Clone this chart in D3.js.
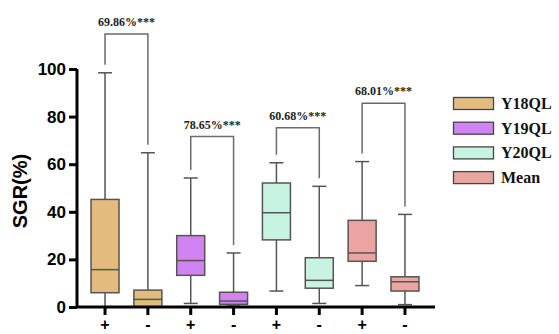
<!DOCTYPE html>
<html>
<head>
<meta charset="utf-8">
<script src="https://cdn.jsdelivr.net/npm/d3@7"></script>
<style>
body{margin:0;background:#fff;}
svg{display:block;}
</style>
</head>
<body>
<svg id="chart" width="559" height="334"></svg>
<script>
// ---- data ----
const categories = ["+", "-", "+", "-", "+", "-", "+", "-"];
const groups = ["Y18QL", "Y18QL", "Y19QL", "Y19QL", "Y20QL", "Y20QL", "Mean", "Mean"];
const mins    = [0.0, 0.0, 1.5, 0.4, 6.7, 1.5, 9.0, 1.0];
const q1s     = [6.0, 0.0, 13.3, 1.1, 28.2, 7.9, 19.2, 6.7];
const medians = [15.7, 3.2, 19.5, 2.5, 39.6, 11.2, 22.7, 10.6];
const q3s     = [45.2, 7.1, 30.0, 6.2, 52.1, 20.7, 36.4, 12.7];
const maxs    = [98.4, 64.8, 54.2, 22.7, 60.6, 50.7, 61.1, 38.9];
const legendNames = ["Y18QL", "Y19QL", "Y20QL", "Mean"];
const legendColors = ["#E4BB7F", "#D083F2", "#C9F3E1", "#EBA5A0"];
const sigLabels = ["69.86%***", "78.65%***", "60.68%***", "68.01%***"];
const sigHeights = [114.7, 71.6, 75.3, 85.6]; // bracket top in data units
const yTicks = [0, 20, 40, 60, 80, 100];

// ---- layout ----
const svg = d3.select("#chart");
const x = d3.scaleBand().domain(d3.range(8)).range([83.6, 426.4]).padding(0);
const y = d3.scaleLinear().domain([0, 100]).range([307, 69]);
const color = d3.scaleOrdinal().domain(legendNames).range(legendColors);
const boxW = 28, capW = 14;
const cx = i => x(i) + x.bandwidth() / 2;

// significance brackets
const gap = 8;
sigLabels.forEach((lab, k) => {
  const a = 2 * k, b = 2 * k + 1;
  const top = y(sigHeights[k]);
  const path = d3.path();
  path.moveTo(cx(a), y(maxs[a]) - gap);
  path.lineTo(cx(a), top);
  path.lineTo(cx(b), top);
  path.lineTo(cx(b), y(maxs[b]) - gap);
  svg.append("path").attr("d", path.toString())
    .attr("fill", "none").attr("stroke", "#6b6b6b").attr("stroke-width", 1.5);
  svg.append("text")
    .attr("x", (cx(a) + cx(b)) / 2).attr("y", top - 8)
    .attr("text-anchor", "middle")
    .attr("font-family", "'Liberation Serif', 'Times New Roman', serif")
    .attr("font-weight", "bold").attr("font-size", 12).attr("fill", "#222")
    .text(lab);
});

// boxes
const boxes = svg.append("g");
d3.range(8).forEach(i => {
  const g = boxes.append("g");
  const c = cx(i);
  const stroke = "#555";
  g.append("line").attr("x1", c).attr("x2", c).attr("y1", y(maxs[i])).attr("y2", y(q3s[i]))
    .attr("stroke", stroke).attr("stroke-width", 1.5);
  g.append("line").attr("x1", c).attr("x2", c).attr("y1", y(q1s[i])).attr("y2", y(mins[i]))
    .attr("stroke", stroke).attr("stroke-width", 1.5);
  g.append("line").attr("x1", c - capW / 2).attr("x2", c + capW / 2).attr("y1", y(maxs[i])).attr("y2", y(maxs[i]))
    .attr("stroke", stroke).attr("stroke-width", 1.5);
  g.append("line").attr("x1", c - capW / 2).attr("x2", c + capW / 2).attr("y1", y(mins[i])).attr("y2", y(mins[i]))
    .attr("stroke", stroke).attr("stroke-width", 1.5);
  g.append("rect").attr("x", c - boxW / 2).attr("width", boxW)
    .attr("y", y(q3s[i])).attr("height", y(q1s[i]) - y(q3s[i]))
    .attr("fill", color(groups[i])).attr("stroke", stroke).attr("stroke-width", 1.5);
  g.append("line").attr("x1", c - boxW / 2).attr("x2", c + boxW / 2).attr("y1", y(medians[i])).attr("y2", y(medians[i]))
    .attr("stroke", stroke).attr("stroke-width", 1.5);
});

// y axis
const yAxis = svg.append("g").attr("transform", "translate(77,0)")
  .call(d3.axisLeft(y).tickValues(yTicks).tickSize(8).tickPadding(3));
yAxis.select(".domain").attr("stroke", "#000").attr("stroke-width", 3)
  .attr("d", `M0,${y(100)}V${y(0)}`);
yAxis.selectAll(".tick line").attr("stroke", "#000").attr("stroke-width", 3);
yAxis.selectAll(".tick text")
  .attr("font-family", "'Liberation Sans', Arial, sans-serif")
  .attr("font-weight", "bold").attr("font-size", 17).attr("fill", "#000");

// x axis
const xAxis = svg.append("g").attr("transform", `translate(0,${y(0)})`)
  .call(d3.axisBottom(x).tickFormat(i => categories[i]).tickSize(8).tickPadding(4));
xAxis.select(".domain").attr("stroke", "#000").attr("stroke-width", 3)
  .attr("d", "M77,0H435");
xAxis.selectAll(".tick line").attr("stroke", "#000").attr("stroke-width", 3);
xAxis.selectAll(".tick text")
  .attr("font-family", "'Liberation Sans', Arial, sans-serif")
  .attr("font-weight", "bold").attr("font-size", 16).attr("fill", "#000");

// y label
svg.append("text")
  .attr("transform", `translate(27,${y(50) + 3}) rotate(-90)`)
  .attr("text-anchor", "middle")
  .attr("font-family", "'Liberation Sans', Arial, sans-serif")
  .attr("font-weight", "bold").attr("font-size", 20).attr("fill", "#000")
  .text("SGR(%)");

// legend
const leg = svg.append("g");
legendNames.forEach((n, k) => {
  const yy = 97.5 + k * 24.7;
  leg.append("rect").attr("x", 453.5).attr("y", yy).attr("width", 40).attr("height", 12)
    .attr("fill", legendColors[k]).attr("stroke", "#444").attr("stroke-width", 1.3);
  leg.append("text").attr("x", 501).attr("y", yy + 11.5)
    .attr("font-family", "'Liberation Serif', 'Times New Roman', serif")
    .attr("font-weight", "bold").attr("font-size", 16).attr("fill", "#111")
    .text(n);
});
</script>
</body>
</html>
